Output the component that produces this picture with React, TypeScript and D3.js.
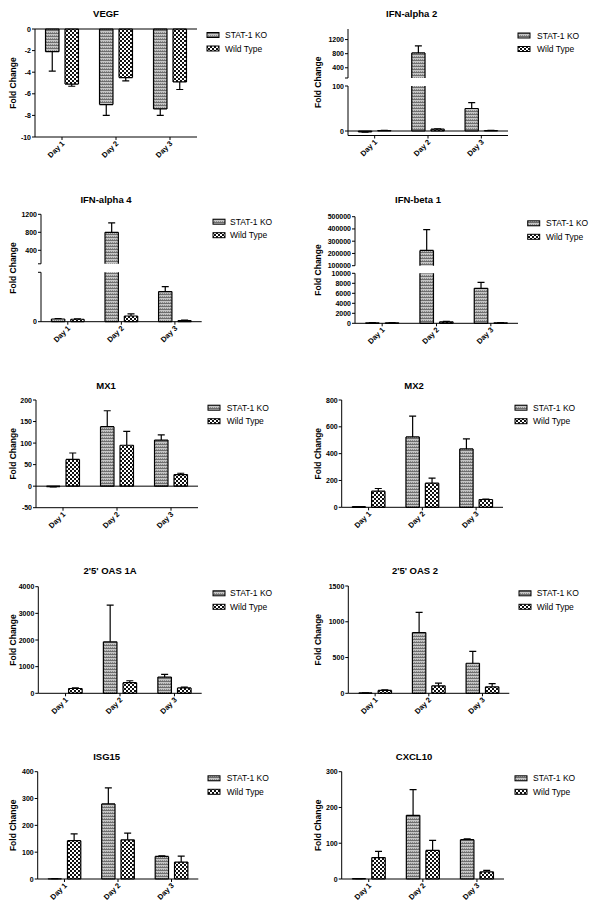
import React from "react";
import * as d3 from "d3";

const days = ["Day 1", "Day 2", "Day 3"];
const seriesNames = ["STAT-1 KO", "Wild Type"];
const titles = ["VEGF", "IFN-alpha 2", "IFN-alpha 4", "IFN-beta 1", "MX1", "MX2", "2'5' OAS 1A", "2'5' OAS 2", "ISG15", "CXCL10"];

// means and SEM per gene
const vegfKO = [-2.1, -7.0, -7.4];
const vegfKOErr = [1.8, 1.0, 0.6];
const vegfWT = [-5.1, -4.5, -4.9];
const vegfWTErr = [0.2, 0.3, 0.7];

const ifna2KO = [-2, 820, 50];
const ifna2KOErr = [0.5, 200, 13];
const ifna2WT = [1, 4, 1];
const ifna2WTErr = [0.3, 1, 0.3];

const ifna4KO = [5.5, 800, 61];
const ifna4KOErr = [1, 210, 10];
const ifna4WT = [5, 11.5, 2];
const ifna4WTErr = [1, 4.5, 1];

const ifnb1KO = [100, 225000, 7000];
const ifnb1KOErr = [20, 170000, 1200];
const ifnb1WT = [100, 300, 100];
const ifnb1WTErr = [20, 100, 20];

const mx1KO = [-1, 138, 107];
const mx1KOErr = [0.5, 37, 12];
const mx1WT = [62, 95, 27];
const mx1WTErr = [15, 32, 3];

const mx2KO = [5, 525, 435];
const mx2KOErr = [1, 155, 75];
const mx2WT = [120, 180, 58];
const mx2WTErr = [20, 38, 3];

const oas1aKO = [0, 1930, 610];
const oas1aKOErr = [0, 1380, 100];
const oas1aWT = [180, 400, 200];
const oas1aWTErr = [25, 70, 30];

const oas2KO = [5, 850, 420];
const oas2KOErr = [1, 280, 165];
const oas2WT = [40, 105, 90];
const oas2WTErr = [8, 38, 45];

const isg15KO = [1, 280, 84];
const isg15KOErr = [0.3, 60, 2];
const isg15WT = [143, 146, 63];
const isg15WTErr = [25, 25, 22];

const cxcl10KO = [1, 178, 110];
const cxcl10KOErr = [0.3, 72, 2];
const cxcl10WT = [60, 80, 20];
const cxcl10WTErr = [17, 28, 4];

// tick labels
const vegfTicks = [-10, -8, -6, -4, -2, 0];
const ifna2TicksLow = [0, 100];
const ifna2TicksHigh = [400, 800, 1200];
const ifna4TicksLow = [0];
const ifna4TicksHigh = [400, 800, 1200];
const ifnb1TicksLow = [0, 2000, 4000, 6000, 8000, 10000];
const ifnb1TicksHigh = [100000, 200000, 300000, 400000, 500000];
const mx1Ticks = [-50, 0, 50, 100, 150, 200];
const mx2Ticks = [0, 200, 400, 600, 800];
const oas1aTicks = [0, 1000, 2000, 3000, 4000];
const oas2Ticks = [0, 500, 1000, 1500];
const isg15Ticks = [0, 100, 200, 300, 400];
const cxcl10Ticks = [0, 100, 200, 300];

type Seg = { lo: number; hi: number; y0: number; y1: number; ticks: number[] };
type PanelCfg = {
  title: string;
  ko: number[]; koErr: number[]; wt: number[]; wtErr: number[];
  segs: Seg[];
  ax: number; rx: number; axisY: number; zero: boolean;
  tx: number; ty: number; lx: number; ly: number; tlx: number; lab: number;
};

const panels: PanelCfg[] = [
  { title: titles[0], ko: vegfKO, koErr: vegfKOErr, wt: vegfWT, wtErr: vegfWTErr,
    segs: [{ lo: -10, hi: 0, y0: 137, y1: 29, ticks: vegfTicks }],
    ax: 35, rx: 197, axisY: 137, zero: true, tx: 106, ty: 16.5, lx: 207, ly: 35, tlx: 225, lab: 13 },
  { title: titles[1], ko: ifna2KO, koErr: ifna2KOErr, wt: ifna2WT, wtErr: ifna2WTErr,
    segs: [{ lo: -10, hi: 100, y0: 135.5, y1: 86, ticks: ifna2TicksLow }, { lo: 110, hi: 1500, y0: 78, y1: 29, ticks: ifna2TicksHigh }],
    ax: 348, rx: 508, axisY: 135.5, zero: true, tx: 411.7, ty: 16.5, lx: 518, ly: 35.5, tlx: 537, lab: 318 },
  { title: titles[2], ko: ifna4KO, koErr: ifna4KOErr, wt: ifna4WT, wtErr: ifna4WTErr,
    segs: [{ lo: 0, hi: 100, y0: 321.7, y1: 272.3, ticks: ifna4TicksLow }, { lo: 100, hi: 1200, y0: 263.8, y1: 214.3, ticks: ifna4TicksHigh }],
    ax: 41, rx: 201.7, axisY: 321.7, zero: false, tx: 106, ty: 202.5, lx: 213, ly: 221.7, tlx: 230, lab: 13 },
  { title: titles[3], ko: ifnb1KO, koErr: ifnb1KOErr, wt: ifnb1WT, wtErr: ifnb1WTErr,
    segs: [{ lo: 0, hi: 10000, y0: 323.3, y1: 273.3, ticks: ifnb1TicksLow }, { lo: 100000, hi: 500000, y0: 265.7, y1: 216.7, ticks: ifnb1TicksHigh }],
    ax: 355, rx: 518, axisY: 323.3, zero: false, tx: 418, ty: 203, lx: 527.7, ly: 223.3, tlx: 546, lab: 318 },
  { title: titles[4], ko: mx1KO, koErr: mx1KOErr, wt: mx1WT, wtErr: mx1WTErr,
    segs: [{ lo: -50, hi: 200, y0: 507.7, y1: 400, ticks: mx1Ticks }],
    ax: 36, rx: 198, axisY: 507.7, zero: true, tx: 106, ty: 388.5, lx: 208, ly: 407.7, tlx: 226.7, lab: 13 },
  { title: titles[5], ko: mx2KO, koErr: mx2KOErr, wt: mx2WT, wtErr: mx2WTErr,
    segs: [{ lo: 0, hi: 800, y0: 507.3, y1: 400, ticks: mx2Ticks }],
    ax: 341.7, rx: 503, axisY: 507.3, zero: false, tx: 414, ty: 388.5, lx: 515, ly: 407.7, tlx: 533, lab: 318 },
  { title: titles[6], ko: oas1aKO, koErr: oas1aKOErr, wt: oas1aWT, wtErr: oas1aWTErr,
    segs: [{ lo: 0, hi: 4000, y0: 693.3, y1: 586.7, ticks: oas1aTicks }],
    ax: 38.3, rx: 201.7, axisY: 693.3, zero: false, tx: 110, ty: 574, lx: 213, ly: 593.3, tlx: 230, lab: 13 },
  { title: titles[7], ko: oas2KO, koErr: oas2KOErr, wt: oas2WT, wtErr: oas2WTErr,
    segs: [{ lo: 0, hi: 1500, y0: 693.3, y1: 586, ticks: oas2Ticks }],
    ax: 348.3, rx: 509.3, axisY: 693.3, zero: false, tx: 415, ty: 574, lx: 519, ly: 593.3, tlx: 536.7, lab: 318 },
  { title: titles[8], ko: isg15KO, koErr: isg15KOErr, wt: isg15WT, wtErr: isg15WTErr,
    segs: [{ lo: 0, hi: 400, y0: 879, y1: 771.7, ticks: isg15Ticks }],
    ax: 37.7, rx: 198.3, axisY: 879, zero: false, tx: 106.7, ty: 760, lx: 208, ly: 778.3, tlx: 226.7, lab: 13 },
  { title: titles[9], ko: cxcl10KO, koErr: cxcl10KOErr, wt: cxcl10WT, wtErr: cxcl10WTErr,
    segs: [{ lo: 0, hi: 300, y0: 879, y1: 771.7, ticks: cxcl10Ticks }],
    ax: 341.7, rx: 504, axisY: 879, zero: false, tx: 414, ty: 760, lx: 515, ly: 778.3, tlx: 533, lab: 318 },
];

const FONT = "'Liberation Sans', Arial, Helvetica, sans-serif";
const fills = ["url(#koPat)", "url(#wtPat)"];

function Panel({ cfg, idx }: { cfg: PanelCfg; idx: number }) {
  const { segs, ax, rx, axisY } = cfg;
  const x0 = d3.scaleBand<string>().domain(days).range([ax, rx]);
  const x1 = d3.scaleBand<string>().domain(seriesNames).range([0, x0.bandwidth()]).paddingInner(0.31).paddingOuter(0.54);
  const scales = segs.map((s) => d3.scaleLinear().domain([s.lo, s.hi]).range([s.y0, s.y1]));
  const segFor = (v: number) => {
    let i = segs.findIndex((s) => v >= s.lo && v <= s.hi);
    if (i < 0) {
      if (v > segs[segs.length - 1].hi) i = segs.length - 1;
      else if (v < segs[0].lo) i = 0;
      else i = segs.findIndex((s) => v < s.lo);
    }
    return i;
  };
  const yAll = segs.map((s) => [s.y0, s.y1]).flat();
  const yMid = (Math.max(...yAll) + Math.min(...yAll)) / 2;
  const series = [
    { name: seriesNames[0], vals: cfg.ko, errs: cfg.koErr },
    { name: seriesNames[1], vals: cfg.wt, errs: cfg.wtErr },
  ];
  const y0seg = scales[segFor(0)];
  return (
    <g>
      <text x={cfg.tx} y={cfg.ty} textAnchor="middle" fontFamily={FONT} fontWeight="bold" fontSize={9.5}>{cfg.title}</text>
      <text transform={`translate(${cfg.lab + 3},${yMid}) rotate(-90)`} textAnchor="middle" fontFamily={FONT} fontWeight="bold" fontSize={8.5}>Fold Change</text>
      {series.map((s, si) => (
        <g key={s.name}>
          {s.vals.map((v, di) => {
            const bx = (x0(days[di]) as number) + (x1(s.name) as number);
            const bw = x1.bandwidth();
            const lo = Math.min(0, v), hi = Math.max(0, v);
            const pieces = segs.map((sg, k) => {
              const a = Math.max(lo, sg.lo), b = Math.min(hi, sg.hi);
              if (!(a < b)) return null;
              const sc = scales[k];
              const yt = sc(b), yb = sc(a);
              const edges: string[] = [`M${bx},${yt}V${yb}`, `M${bx + bw},${yt}V${yb}`];
              if (hi <= sg.hi) edges.push(`M${bx},${yt}H${bx + bw}`);
              if (lo >= sg.lo) edges.push(`M${bx},${yb}H${bx + bw}`);
              return (
                <g key={k}>
                  <rect x={bx} y={yt} width={bw} height={Math.max(0.01, yb - yt)} fill={fills[si]} />
                  <path d={edges.join("")} stroke="#000" strokeWidth={1.2} fill="none" />
                </g>
              );
            });
            const err = s.errs[di];
            const k = segFor(v);
            const sc = scales[k];
            const end = v + (v < 0 ? -err : err);
            const cx = bx + bw / 2;
            return (
              <g key={di}>
                {pieces}
                {err > 0 && (
                  <path d={`M${cx},${sc(v)}V${sc(end)}M${cx - 3.5},${sc(end)}H${cx + 3.5}`} stroke="#000" strokeWidth={1.2} fill="none" />
                )}
              </g>
            );
          })}
        </g>
      ))}
      {cfg.zero && <line x1={ax} x2={rx} y1={y0seg(0)} y2={y0seg(0)} stroke="#000" strokeWidth={1} />}
      {segs.map((sg, k) => (
        <g key={k}>
          <line x1={ax} x2={ax} y1={sg.y0} y2={sg.y1} stroke="#000" strokeWidth={1} />
          {sg.ticks.map((t) => (
            <g key={t}>
              <line x1={ax - 3} x2={ax} y1={scales[k](t)} y2={scales[k](t)} stroke="#000" strokeWidth={1} />
              <text x={ax - 4} y={scales[k](t) + 2.5} textAnchor="end" fontFamily={FONT} fontWeight="bold" fontSize={7}>{String(t)}</text>
            </g>
          ))}
          {segs.length > 1 && k === 0 && !sg.ticks.includes(sg.hi) && (
            <line x1={ax - 3} x2={ax} y1={sg.y1} y2={sg.y1} stroke="#000" strokeWidth={1} />
          )}
          {segs.length > 1 && k === 1 && !sg.ticks.includes(sg.lo) && (
            <line x1={ax - 3} x2={ax} y1={sg.y0} y2={sg.y0} stroke="#000" strokeWidth={1} />
          )}
        </g>
      ))}
      <line x1={ax} x2={rx} y1={axisY} y2={axisY} stroke="#000" strokeWidth={1} />
      {days.map((d) => {
        const cx = (x0(d) as number) + x0.bandwidth() / 2;
        return (
          <g key={d}>
            <line x1={cx} x2={cx} y1={axisY} y2={axisY + 3} stroke="#000" strokeWidth={1} />
            <text transform={`translate(${cx + 3},${axisY + 7}) rotate(-45)`} textAnchor="end" fontFamily={FONT} fontWeight="bold" fontSize={7.5}>{d}</text>
          </g>
        );
      })}
      {seriesNames.map((n, si) => (
        <g key={n}>
          <rect x={cfg.lx} y={cfg.ly + si * 13.5 - 2.5} width={12} height={5} fill={fills[si]} stroke="#000" strokeWidth={1} />
          <text x={cfg.tlx} y={cfg.ly + si * 13.5 + 3} fontFamily={FONT} fontSize={8.5}>{n}</text>
        </g>
      ))}
    </g>
  );
}

export default function App() {
  return (
    <svg width={600} height={916} style={{ position: "absolute", left: 0, top: 0, background: "#fff" }}>
      <defs>
        <pattern id="koPat" width={4} height={3} patternUnits="userSpaceOnUse">
          <rect width={4} height={3} fill="#c4c4c4" />
          <rect y={0} width={4} height={1} fill="#6e6e6e" />
          <rect x={0} y={2} width={1} height={1} fill="#8a8a8a" />
          <rect x={2} y={2} width={1} height={1} fill="#8a8a8a" />
        </pattern>
        <pattern id="wtPat" width={4} height={4} patternUnits="userSpaceOnUse">
          <rect width={4} height={4} fill="#fff" />
          <rect x={0} y={0} width={2} height={2} fill="#111" />
          <rect x={2} y={2} width={2} height={2} fill="#111" />
        </pattern>
      </defs>
      <rect width={600} height={916} fill="#fff" />
      {panels.map((p, i) => <Panel key={i} cfg={p} idx={i} />)}
    </svg>
  );
}
